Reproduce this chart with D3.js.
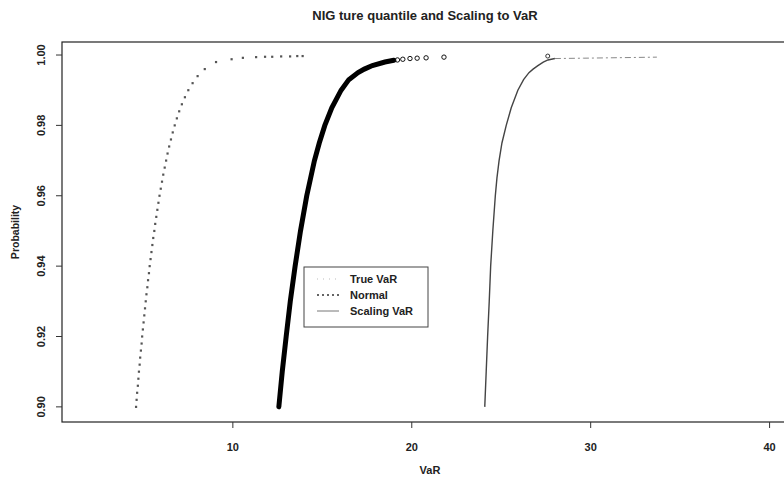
<!DOCTYPE html>
<html>
<head>
<meta charset="utf-8">
<script src="https://cdnjs.cloudflare.com/ajax/libs/d3/7.8.5/d3.min.js"></script>
<style>
  body { margin: 0; background: #fff; }
  text { font-family: "Liberation Sans", Arial, sans-serif; fill: #222; }
</style>
</head>
<body>
<svg id="chart" width="784" height="488"></svg>
<script>
// left curve (dotted points)
var normalP = [0.900, 0.902, 0.904, 0.906, 0.908, 0.910, 0.912, 0.914, 0.916, 0.918,
  0.920, 0.922, 0.924, 0.926, 0.928, 0.930, 0.932, 0.934, 0.936, 0.938,
  0.940, 0.942, 0.944, 0.946, 0.948, 0.950, 0.952, 0.954, 0.956, 0.958,
  0.960, 0.962, 0.964, 0.966, 0.968, 0.970, 0.972, 0.974, 0.976, 0.978,
  0.980, 0.982, 0.984, 0.986, 0.988, 0.990, 0.992, 0.994, 0.996, 0.998,
  0.9988, 0.9992, 0.9994, 0.9995, 0.9995, 0.9996, 0.9996, 0.9997, 0.9997]
var normalVaR = [4.59, 4.62, 4.65, 4.69, 4.72, 4.75, 4.79, 4.82, 4.86, 4.90,
  4.93, 4.97, 5.01, 5.05, 5.09, 5.13, 5.17, 5.22, 5.26, 5.31,
  5.35, 5.40, 5.45, 5.50, 5.55, 5.61, 5.66, 5.72, 5.78, 5.84,
  5.90, 5.97, 6.04, 6.11, 6.19, 6.27, 6.35, 6.44, 6.54, 6.64,
  6.75, 6.87, 7.00, 7.15, 7.32, 7.51, 7.75, 8.03, 8.43, 9.06,
  9.93, 10.56, 11.3, 11.8, 12.2, 12.7, 13.2, 13.6, 13.9]

// middle curve (dense circles)
var trueP = [0.900, 0.910, 0.920, 0.930, 0.940, 0.950, 0.960, 0.970, 0.975, 0.980,
  0.985, 0.990, 0.993, 0.995, 0.996, 0.997, 0.998, 0.9985]
var trueVaR = [12.57, 12.76, 12.98, 13.21, 13.48, 13.78, 14.13, 14.56, 14.83, 15.14,
  15.53, 16.05, 16.48, 17.0, 17.35, 17.8, 18.5, 19.0]
var trueTailP = [0.9986, 0.9988, 0.9990, 0.9991, 0.9992, 0.9994]
var trueTailVaR = [19.2, 19.5, 19.9, 20.3, 20.8, 21.8]

// right curve (scaling)
var scaleP = [0.900, 0.910, 0.920, 0.930, 0.940, 0.950, 0.960, 0.965, 0.970, 0.975,
  0.980, 0.985, 0.990, 0.993, 0.995, 0.996, 0.997, 0.998, 0.9986, 0.9990]
var scaleVaR = [24.08, 24.16, 24.24, 24.33, 24.41, 24.53, 24.67, 24.76, 24.88, 25.04,
  25.28, 25.56, 25.93, 26.25, 26.55, 26.78, 27.05, 27.35, 27.61, 28.0]
var scaleTailP = [0.9990, 0.9991, 0.9992, 0.9993, 0.9994]
var scaleTailVaR = [28.0, 29.6, 31.0, 32.4, 33.7]
var scaleMarkP = [0.9997]
var scaleMarkVaR = [27.6]

var xTicks = [10, 20, 30, 40]
var yTicks = [0.90, 0.92, 0.94, 0.96, 0.98, 1.00]
var legendNames = ['True VaR', 'Normal', 'Scaling VaR']

var svg = d3.select('#chart')
var x = d3.scaleLinear().domain([0.45, 41.7]).range([62, 800])
var y = d3.scaleLinear().domain([0.8957, 1.0037]).range([422, 42])

function pairs (xs, ys) {
  return xs.map(function (v, i) { return [v, ys[i]] })
}
var line = d3.line()
  .x(function (d) { return x(d[0]) })
  .y(function (d) { return y(d[1]) })

// title
svg.append('text')
  .attr('x', 425).attr('y', 20)
  .attr('text-anchor', 'middle')
  .attr('font-size', '13px').attr('font-weight', 'bold')
  .text('NIG ture quantile and Scaling to VaR')

// plot box
svg.append('rect')
  .attr('x', x(0.45)).attr('y', y(1.0037))
  .attr('width', 800 - 62).attr('height', y(0.8957) - y(1.0037))
  .attr('fill', 'none').attr('stroke', '#222').attr('stroke-width', 1.2)

// x axis
svg.selectAll('.xtick')
  .data(xTicks)
  .enter().append('line')
  .attr('x1', function (d) { return x(d) }).attr('x2', function (d) { return x(d) })
  .attr('y1', 422).attr('y2', 428)
  .attr('stroke', '#333')
svg.selectAll('.xlab')
  .data(xTicks)
  .enter().append('text')
  .attr('x', function (d) { return x(d) }).attr('y', 451)
  .attr('text-anchor', 'middle')
  .attr('font-size', '11px').attr('font-weight', 'bold')
  .text(function (d) { return d })

// y axis
svg.selectAll('.ytick')
  .data(yTicks)
  .enter().append('line')
  .attr('x1', 56).attr('x2', 62)
  .attr('y1', function (d) { return y(d) }).attr('y2', function (d) { return y(d) })
  .attr('stroke', '#333')
svg.selectAll('.ylab')
  .data(yTicks)
  .enter().append('text')
  .attr('transform', function (d) { return 'translate(45,' + y(d) + ') rotate(-90)' })
  .attr('text-anchor', 'middle')
  .attr('font-size', '11px').attr('font-weight', 'bold')
  .text(function (d) { return d3.format('.2f')(d) })

svg.append('text')
  .attr('transform', 'translate(19,232) rotate(-90)')
  .attr('text-anchor', 'middle')
  .attr('font-size', '10.5px').attr('font-weight', 'bold')
  .text('Probability')
svg.append('text')
  .attr('x', 430).attr('y', 474)
  .attr('text-anchor', 'middle')
  .attr('font-size', '11px').attr('font-weight', 'bold')
  .text('VaR')

// left dotted points
svg.selectAll('.npt')
  .data(pairs(normalVaR, normalP))
  .enter().append('rect')
  .attr('x', function (d) { return x(d[0]) - 1.1 })
  .attr('y', function (d) { return y(d[1]) - 1.1 })
  .attr('width', 2.2).attr('height', 2.2)
  .attr('fill', '#555')

// middle thick curve
svg.append('path')
  .datum(pairs(trueVaR, trueP))
  .attr('d', line)
  .attr('fill', 'none').attr('stroke', '#000')
  .attr('stroke-width', 5).attr('stroke-linecap', 'round')
svg.selectAll('.tpt')
  .data(pairs(trueTailVaR, trueTailP))
  .enter().append('circle')
  .attr('cx', function (d) { return x(d[0]) })
  .attr('cy', function (d) { return y(d[1]) })
  .attr('r', 2.2)
  .attr('fill', 'none').attr('stroke', '#111').attr('stroke-width', 1)

// right curve
svg.append('path')
  .datum(pairs(scaleVaR, scaleP))
  .attr('d', line)
  .attr('fill', 'none').attr('stroke', '#444').attr('stroke-width', 1.4)
svg.append('path')
  .datum(pairs(scaleTailVaR, scaleTailP))
  .attr('d', line)
  .attr('fill', 'none').attr('stroke', '#888').attr('stroke-width', 1)
  .attr('stroke-dasharray', '6,3,2,3')
svg.selectAll('.spt')
  .data(pairs(scaleMarkVaR, scaleMarkP))
  .enter().append('circle')
  .attr('cx', function (d) { return x(d[0]) })
  .attr('cy', function (d) { return y(d[1]) })
  .attr('r', 2)
  .attr('fill', 'none').attr('stroke', '#333')

// legend
var lg = svg.append('g')
lg.append('rect')
  .attr('x', 304).attr('y', 267).attr('width', 124).attr('height', 60)
  .attr('fill', '#fff').attr('stroke', '#444').attr('stroke-width', 1)
var legendStyle = [
  { stroke: '#bbb', dash: '1,5', w: 1 },
  { stroke: '#333', dash: '2,3', w: 1.5 },
  { stroke: '#777', dash: null, w: 1 }
]
legendNames.forEach(function (name, i) {
  var ly = 283 + i * 16
  lg.append('line')
    .attr('x1', 317).attr('x2', 339).attr('y1', ly - 4).attr('y2', ly - 4)
    .attr('stroke', legendStyle[i].stroke)
    .attr('stroke-width', legendStyle[i].w)
    .attr('stroke-dasharray', legendStyle[i].dash)
  lg.append('text')
    .attr('x', 350).attr('y', ly)
    .attr('font-size', '11px').attr('font-weight', 'bold')
    .text(name)
})
</script>
</body>
</html>
